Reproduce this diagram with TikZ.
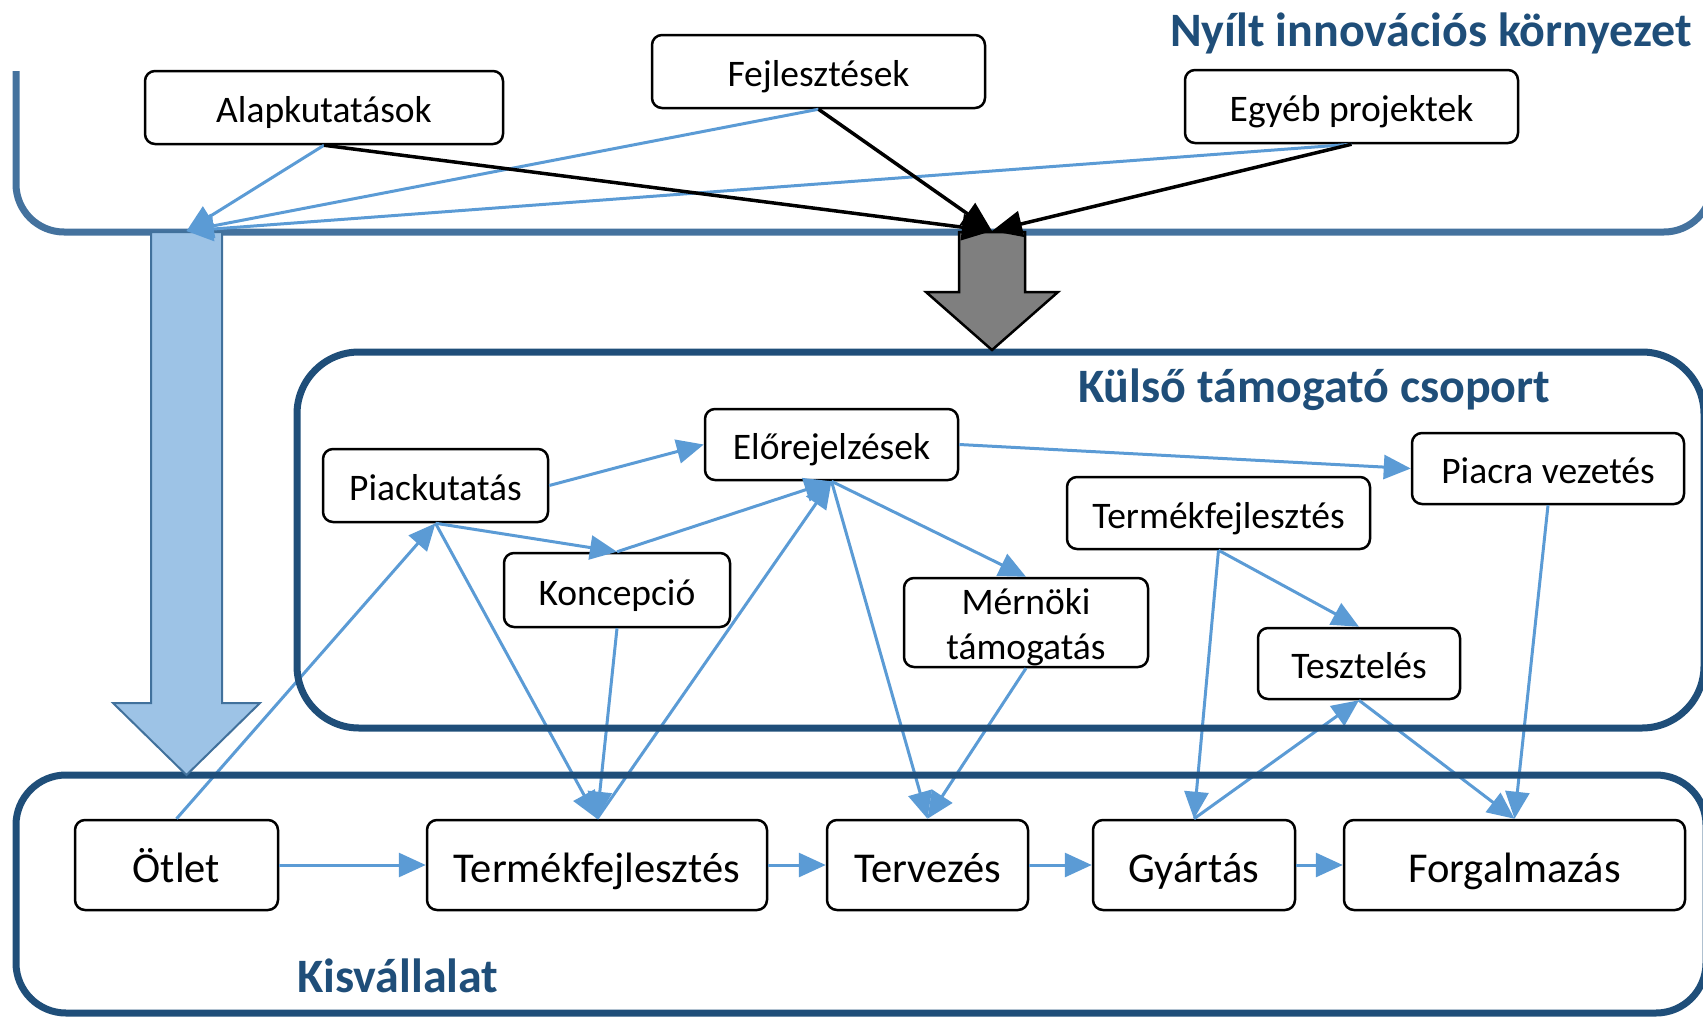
\documentclass[tikz,border=0pt]{standalone}
\usepackage{fontspec}
\setmainfont{Carlito}
\usetikzlibrary{arrows.meta}
\definecolor{frameA}{HTML}{44729E}
\definecolor{frameB}{HTML}{1F4E79}
\definecolor{conn}{HTML}{5B9BD5}
\definecolor{lightarrow}{HTML}{9DC3E6}
\definecolor{lightborder}{HTML}{41719C}
\definecolor{grayarrow}{HTML}{7F7F7F}
\begin{document}
\begin{tikzpicture}[x=1pt,y=-1pt,
  box/.style={draw=black, line width=2.5pt, rounded corners=10pt, fill=white, inner sep=0pt, text height=30pt, text depth=0pt, font=\fontsize{37.5}{45}\selectfont},
  bigbox/.style={box, text height=34pt, font=\fontsize{42.5}{50}\selectfont},
  plainbox/.style={draw=black, line width=2.5pt, rounded corners=10pt, fill=white, inner sep=0pt},
  boxtext/.style={inner sep=0pt, align=center, font=\fontsize{37.5}{45}\selectfont},
  bl/.style={draw=conn, line width=3pt, -{Triangle[length=27pt,width=24pt]}},
  blk/.style={draw=black, line width=3.5pt, -{Triangle[length=30pt,width=26pt]}},
  title/.style={text=frameB, font=\bfseries\fontsize{48}{52}\selectfont, inner sep=0pt, anchor=base west},
  frameline/.style={line width=7pt}
]
\useasboundingbox (0,0) rectangle (1703,1017);

% nodes
\node[box, minimum width=358pt, minimum height=73pt] (alap) at (324,107.5) {Alapkutatások};
\node[box, minimum width=333pt, minimum height=73pt] (fejl) at (818.5,71.5) {Fejlesztések};
\node[box, minimum width=333pt, minimum height=73pt] (egyeb) at (1351.5,106.5) {Egyéb projektek};

\node[box, minimum width=225pt, minimum height=73pt] (piack) at (435.5,485.5) {Piackutatás};
\node[box, minimum width=226pt, minimum height=74pt] (konc) at (617,590) {Koncepció};
\node[box, minimum width=253pt, minimum height=71pt] (elore) at (831.5,444.5) {Előrejelzések};
\node[box, minimum width=272pt, minimum height=71pt] (piacra) at (1548,468.5) {Piacra vezetés};
\node[box, minimum width=303pt, minimum height=72pt] (termmid) at (1218.5,513) {Termékfejlesztés};
\node[plainbox, minimum width=244pt, minimum height=89pt] (mernoki) at (1026,622.5) {};
\node[boxtext] (mernokitext) at ([yshift=-5pt]mernoki.center) {Mérnöki\\támogatás};
\node[box, minimum width=202pt, minimum height=71pt] (teszt) at (1359,663.5) {Tesztelés};

\node[bigbox, minimum width=203pt, minimum height=90pt] (otlet) at (176.5,865) {Ötlet};
\node[bigbox, minimum width=340pt, minimum height=90pt] (termb) at (597,865) {Termékfejlesztés};
\node[bigbox, minimum width=201pt, minimum height=90pt] (terv) at (927.5,865) {Tervezés};
\node[bigbox, minimum width=202pt, minimum height=90pt] (gyart) at (1194,865) {Gyártás};
\node[bigbox, minimum width=341pt, minimum height=90pt] (forg) at (1514.5,865) {Forgalmazás};

% middle connectors
\draw[bl] (piack.east) -- (elore.west);
\draw[bl] (elore.east) -- (piacra.west);
\draw[bl] (piack.south) -- (konc.north);
\draw[bl] (konc.north) -- (elore.south);
\draw[bl] (elore.south) -- (mernoki.north);
\draw[bl] (elore.south) -- (terv.north);
\draw[bl] (otlet.north) -- (piack.south);
\draw[bl] (piack.south) -- (termb.north);
\draw[bl] (konc.south) -- (termb.north);
\draw[bl] (termb.north) -- (elore.south);
\draw[bl] (mernoki.south) -- (terv.north);
\draw[bl] (termmid.south) -- (gyart.north);
\draw[bl] (termmid.south) -- (teszt.north);
\draw[bl] (gyart.north) -- (teszt.south);
\draw[bl] (teszt.south) -- (forg.north);
\draw[bl] (piacra.south) -- (forg.north);
\draw[bl] (otlet.east) -- (termb.west);
\draw[bl] (termb.east) -- (terv.west);
\draw[bl] (terv.east) -- (gyart.west);
\draw[bl] (gyart.east) -- (forg.west);

% frames
\draw[frameline, draw=frameB, rounded corners=62pt] (297,352) rectangle (1704,728);
\draw[frameline, draw=frameB, rounded corners=50pt] (16,775) rectangle (1706,1013);
\draw[frameline, draw=frameA, rounded corners=48pt] (16,71) -- (16,232) -- (1712,232) -- (1712,60);

% block arrows
\draw[draw=lightborder, fill=lightarrow, line width=2pt] (151,232) -- (222,232) -- (222,703) -- (260,703) -- (186.5,775) -- (113,703) -- (151,703) -- cycle;
\draw[draw=black, fill=grayarrow, line width=2.5pt] (959,232) -- (1025,232) -- (1025,292) -- (1058,292) -- (992,350) -- (926,292) -- (959,292) -- cycle;
\coordinate (lbtop) at (186.5,231);
\coordinate (gtop) at (992,231);

% top connectors
\draw[bl] (alap.south) -- (lbtop);
\draw[bl] (fejl.south) -- (lbtop);
\draw[bl] (egyeb.south) -- (lbtop);
\draw[blk] (alap.south) -- (gtop);
\draw[blk] (fejl.south) -- (gtop);
\draw[blk] (egyeb.south) -- (gtop);

% titles
\node[title] (t1) at (1170,46) {Nyílt innovációs környezet};
\node[title] (t2) at (1078,402) {Külső támogató csoport};
\node[title] (t3) at (297,992) {Kisvállalat};
\end{tikzpicture}
\end{document}
